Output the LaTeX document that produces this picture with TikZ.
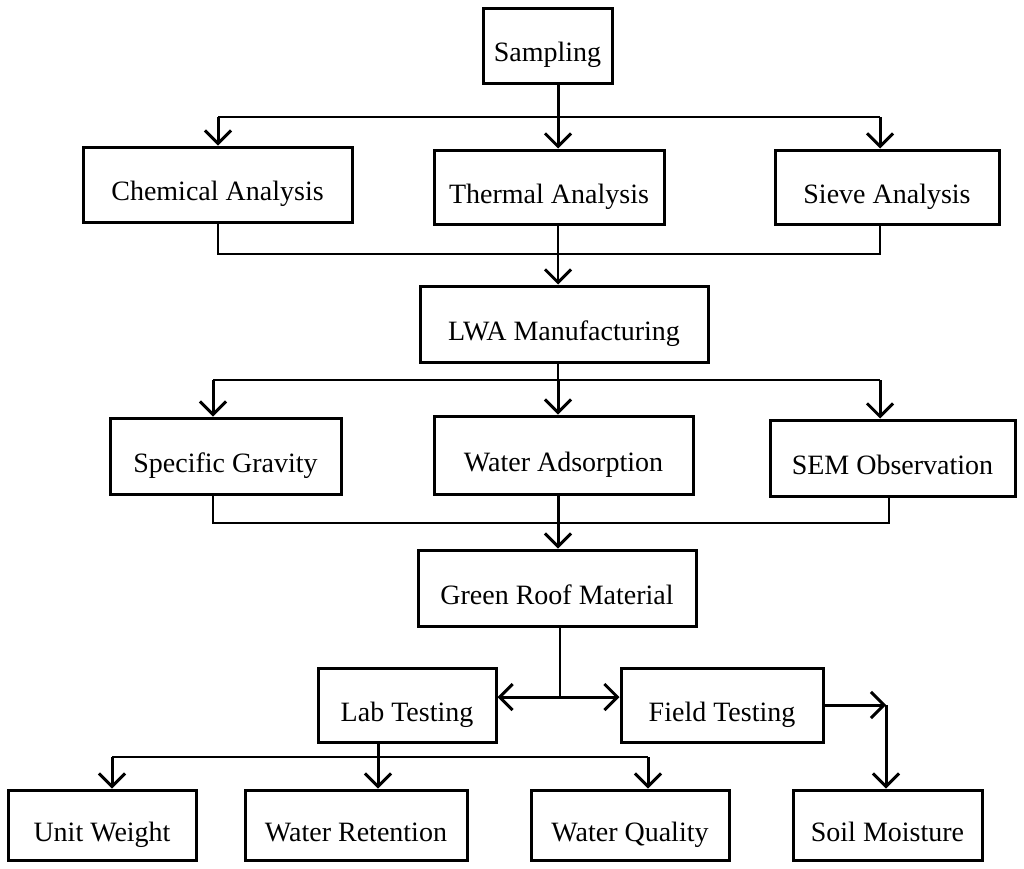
\documentclass[tikz,border=0pt]{standalone}
\usepackage{fontspec}
\setmainfont{Liberation Serif}
\usetikzlibrary{arrows.meta}
\begin{document}
\begin{tikzpicture}[x=1pt,y=-1pt,
  box/.style={draw, line width=3pt, inner sep=0pt, text height=38pt, text depth=6pt, font=\fontsize{28}{32}\selectfont},
  thn/.style={line width=1.5pt},
  thk/.style={line width=3pt},
  ar/.style={-{Straight Barb[length=13pt,width=26pt,line width=3pt]}}]
\useasboundingbox (0,0) rectangle (1024,868);
\node[box, minimum width=129pt, minimum height=75pt] (samp) at (547.5,45.5) {Sampling};
\node[box, minimum width=269pt, minimum height=75pt] (chem) at (217.5,184.5) {Chemical Analysis};
\node[box, minimum width=230pt, minimum height=74pt] (therm) at (549,187) {Thermal Analysis};
\node[box, minimum width=224pt, minimum height=74pt] (sieve) at (887,187) {Sieve Analysis};
\node[box, minimum width=288pt, minimum height=76pt] (lwa) at (564,324) {LWA Manufacturing};
\node[box, minimum width=231pt, minimum height=76pt] (spec) at (225.5,456) {Specific Gravity};
\node[box, minimum width=259pt, minimum height=78pt] (water) at (563.5,455) {Water Adsorption};
\node[box, minimum width=245pt, minimum height=76pt] (sem) at (892.5,458) {SEM Observation};
\node[box, minimum width=278pt, minimum height=76pt] (grm) at (557,588) {Green Roof Material};
\node[box, minimum width=178pt, minimum height=74pt] (lab) at (407,705) {Lab Testing};
\node[box, minimum width=202pt, minimum height=74pt] (field) at (722,705) {Field Testing};
\node[box, minimum width=188pt, minimum height=70pt] (unit) at (102,825) {Unit Weight};
\node[box, minimum width=222pt, minimum height=70pt] (ret) at (356,825) {Water Retention};
\node[box, minimum width=198pt, minimum height=70pt] (qual) at (630,825) {Water Quality};
\node[box, minimum width=189pt, minimum height=70pt] (soil) at (887.5,825) {Soil Moisture};
% junctions
\coordinate (a0) at (218,117); \coordinate (a1) at (558,117); \coordinate (a2) at (880,117);
\coordinate (b0) at (218,254); \coordinate (b1) at (558,254); \coordinate (b2) at (880,254);
\coordinate (c0) at (213,380); \coordinate (c1) at (558,380); \coordinate (c2) at (880,380);
\coordinate (d0) at (213,523); \coordinate (d1) at (558,523); \coordinate (d2) at (889,523);
\coordinate (e) at (560,697);
\coordinate (f) at (886,705);
\coordinate (g0) at (112,757); \coordinate (g1) at (378,757); \coordinate (g2) at (648,757);
% sampling -> analyses
\draw[thk,ar] (a1 |- samp.south) -- (a1 |- therm.north);
\draw[thn] (a0) -- (a2);
\draw[thk,ar] (a0) -- (a0 |- chem.north);
\draw[thk,ar] (a2) -- (a2 |- sieve.north);
% analyses -> LWA
\draw[thn] (b0 |- chem.south) -- (b0) -- (b2) -- (b2 |- sieve.south);
\draw[thn,ar] (b1 |- therm.south) -- (b1 |- lwa.north);
% LWA -> tests
\draw[thn] (c1 |- lwa.south) -- (c1);
\draw[thn] (c0) -- (c2);
\draw[thk,ar] (c0) -- (c0 |- spec.north);
\draw[thk,ar] (c1) -- (c1 |- water.north);
\draw[thk,ar] (c2) -- (c2 |- sem.north);
% tests -> green roof
\draw[thn] (d0 |- spec.south) -- (d0) -- (d2) -- (d2 |- sem.south);
\draw[thk,ar] (d1 |- water.south) -- (d1 |- grm.north);
% green roof -> lab / field
\draw[thn] (e |- grm.south) -- (e);
\draw[thk,ar] (e) -- (e -| lab.east);
\draw[thk,ar] (e) -- (e -| field.west);
% field -> soil
\draw[thk,ar] (field.east |- f) -- (f);
\draw[thk,ar] (f) -- (f |- soil.north);
% lab -> results
\draw[thk,ar] (g1 |- lab.south) -- (g1 |- ret.north);
\draw[thn] (g0) -- (g2);
\draw[thk,ar] (g0) -- (g0 |- unit.north);
\draw[thk,ar] (g2) -- (g2 |- qual.north);
\end{tikzpicture}
\end{document}
